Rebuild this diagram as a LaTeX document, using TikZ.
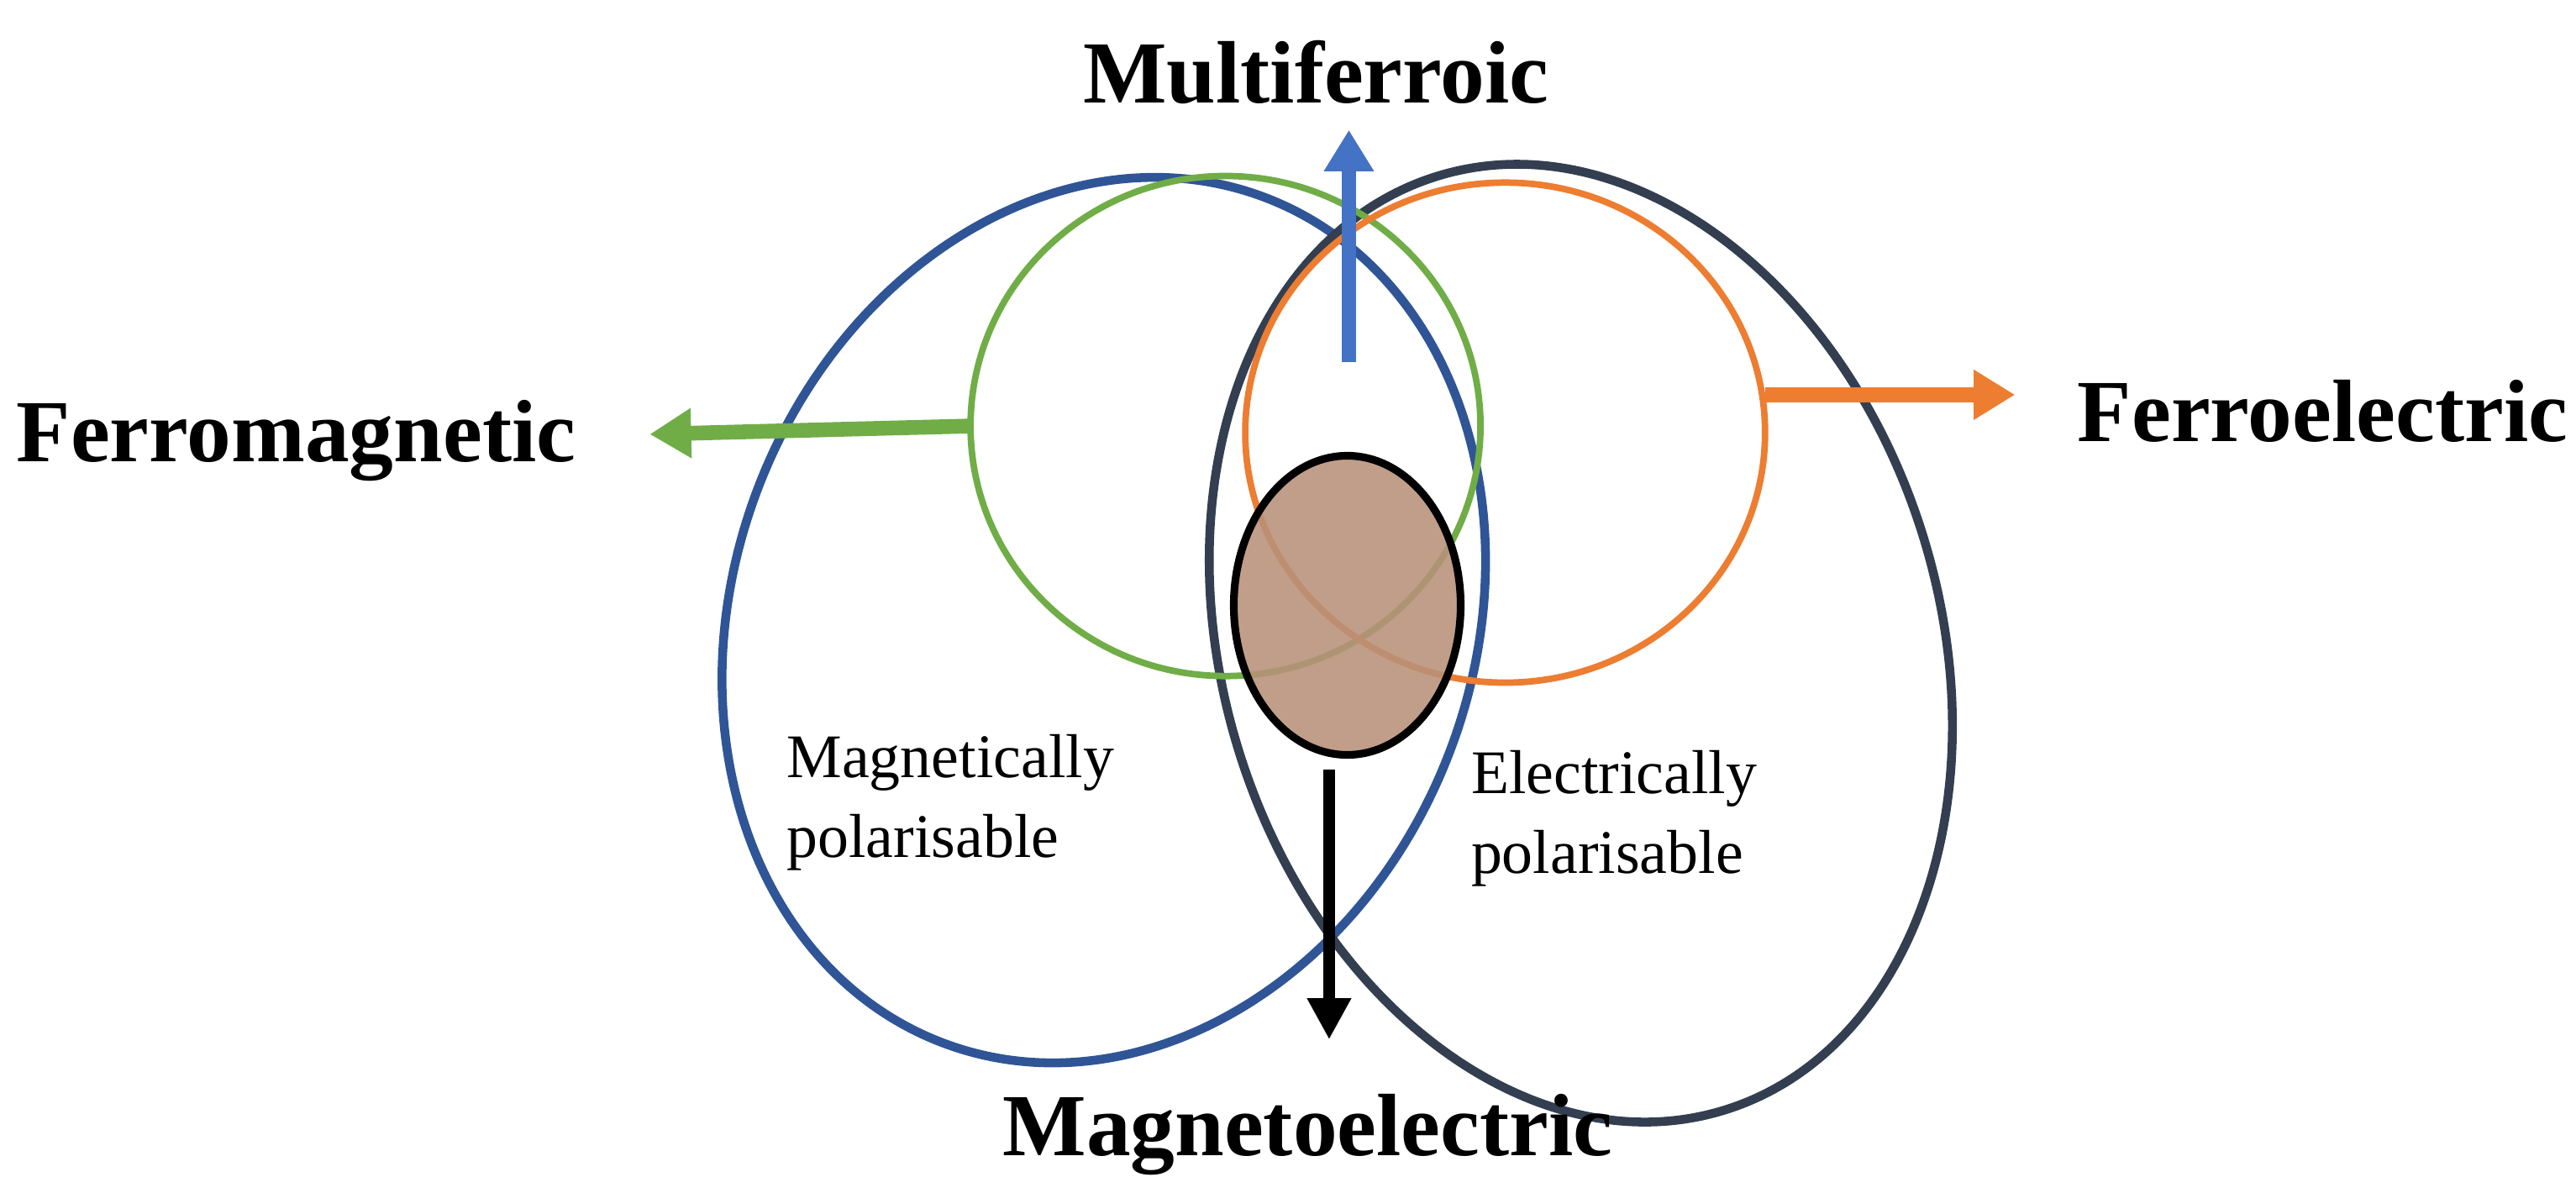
\documentclass[tikz,border=0pt]{standalone}
\usepackage{fontspec}
\setmainfont{Liberation Serif}
\usetikzlibrary{arrows.meta,shapes.geometric}
\definecolor{eblue}{HTML}{2F5597}
\definecolor{enavy}{HTML}{333F50}
\definecolor{cgreen}{HTML}{70AD47}
\definecolor{corange}{HTML}{ED7D31}
\definecolor{ablue}{HTML}{4472C4}
\definecolor{mebrown}{HTML}{B8917A}
\begin{document}
\begin{tikzpicture}[x=0.01958cm,y=-0.01958cm,
  big/.style={font=\fontsize{30}{34}\selectfont\bfseries},
  small/.style={font=\fontsize{21}{27}\selectfont,align=left,anchor=north west},
  tip/.style={-{Triangle[length=14,width=16]}}]
\useasboundingbox (0,0) rectangle (1566,725);
\draw[eblue,line width=3pt,rotate around={-21:(671,377)}] (671,377) ellipse [x radius=225,y radius=275];
\draw[enavy,line width=3pt,rotate around={17:(961,391)}] (961,391) ellipse [x radius=218,y radius=297];
\draw[cgreen,line width=2.2pt] (745,259) ellipse [x radius=155,y radius=152];
\draw[corange,line width=2.2pt] (915,263) ellipse [x radius=158,y radius=152];
\node[draw=black,line width=2.6pt,fill=mebrown,fill opacity=0.88,ellipse,minimum width=2.70cm,minimum height=3.56cm,inner sep=0] (me) at (819,368) {};
\node[big] (mf) at (800,44) {Multiferroic};
\node[big] (fm) at (180,268) {Ferromagnetic};
\node[big] (fe) at (1412,250) {Ferroelectric};
\node[big] (mel) at (795,690) {Magnetoelectric};
\node[small] (mp) at (472,440) {Magnetically\\polarisable};
\node[small] (ep) at (888,450) {Electrically\\polarisable};
\coordinate (bs) at (820,220); \coordinate (bt) at (820,79);
\coordinate (gs) at (590,259); \coordinate (gt) at (395,264);
\coordinate (os) at (1073,240); \coordinate (ot) at (1225,240);
\coordinate (ks) at (808,468); \coordinate (kt) at (808,632);
\draw[ablue,line width=5pt,tip] (bs) -- (bt);
\draw[cgreen,line width=5pt,tip] (gs) -- (gt);
\draw[corange,line width=5pt,tip] (os) -- (ot);
\draw[black,line width=4pt,-{Triangle[length=14,width=14]}] (ks) -- (kt);
\end{tikzpicture}
\end{document}
